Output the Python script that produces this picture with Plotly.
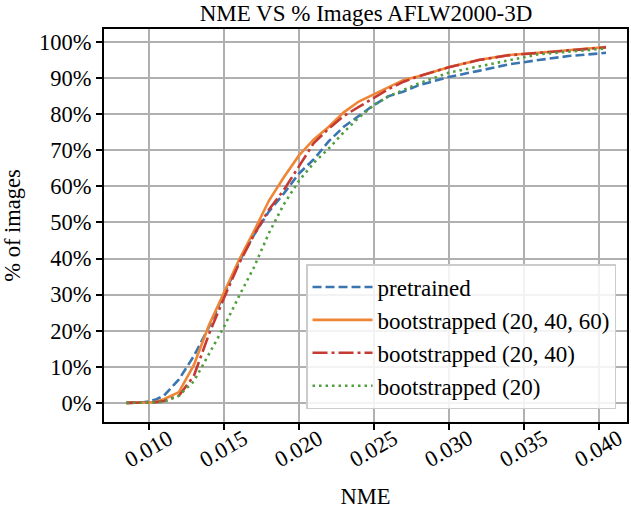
import plotly.graph_objects as go

# ---- data ----
nme = [0.0085, 0.0090, 0.0095, 0.0100, 0.0105, 0.0110, 0.0120, 0.0130, 0.0140, 0.0150,
       0.0160, 0.0170, 0.0180, 0.0190, 0.0200, 0.0210, 0.0220, 0.0230, 0.0240, 0.0250,
       0.0260, 0.0270, 0.0280, 0.0300, 0.0320, 0.0340, 0.0360, 0.0380, 0.0400, 0.0405]

pretrained = [0, 0, 0.1, 0.4, 1.0, 2.0, 6.5, 13.0, 21.0, 30.0,
              39.0, 46.5, 53.0, 58.0, 63.5, 67.5, 72.5, 76.5, 79.5, 82.5,
              85.0, 86.3, 88.0, 90.3, 92.0, 93.8, 95.0, 96.1, 96.8, 97.0]
boot_20_40_60 = [0, 0, 0, 0.1, 0.3, 1.0, 3.0, 10.5, 21.5, 30.5,
                 39.5, 47.5, 56.0, 62.5, 68.5, 73.0, 76.5, 80.5, 83.5, 85.5,
                 87.5, 89.5, 90.5, 93.0, 95.0, 96.4, 97.0, 97.8, 98.4, 98.6]
boot_20_40 = [0, 0, 0, 0.1, 0.2, 0.5, 2.0, 7.5, 19.0, 29.0,
              38.5, 46.5, 53.5, 59.0, 65.5, 72.0, 76.0, 79.5, 82.0, 84.5,
              87.0, 89.0, 90.5, 93.0, 95.0, 96.3, 97.0, 97.8, 98.3, 98.5]
boot_20 = [0, 0, 0, 0, 0.1, 0.3, 2.0, 6.0, 13.5, 21.0,
           29.5, 37.5, 47.0, 55.0, 61.5, 66.5, 70.5, 75.0, 79.0, 82.5,
           85.0, 86.8, 88.5, 91.5, 93.2, 95.0, 96.6, 97.3, 98.0, 98.2]

series_names = ["pretrained", "bootstrapped (20, 40, 60)", "bootstrapped (20, 40)", "bootstrapped (20)"]
series_values = [pretrained, boot_20_40_60, boot_20_40, boot_20]
series_colors = ["#3a75b0", "#ef8636", "#c53a32", "#519e3e"]
series_dash = ["9px,4px", "solid", "15px,4px,3px,4px", "2.5px,4px"]

x_tickvals = [0.010, 0.015, 0.020, 0.025, 0.030, 0.035, 0.040]
x_ticktext = ["0.010", "0.015", "0.020", "0.025", "0.030", "0.035", "0.040"]
y_tickvals = [0, 10, 20, 30, 40, 50, 60, 70, 80, 90, 100]
y_ticktext = [f"{v}%" for v in y_tickvals]

FONT = "Liberation Serif"

fig = go.Figure()
for name, vals, col, dash in zip(series_names, series_values, series_colors, series_dash):
    fig.add_trace(go.Scatter(x=nme, y=vals, mode="lines", name=name,
                             line=dict(color=col, width=2.6, dash=dash)))

# rotated x tick labels (matplotlib-style centred under the tick)
for v, t in zip(x_tickvals, x_ticktext):
    fig.add_annotation(x=v, xref="x", y=0, yref="paper", text=t, showarrow=False,
                       textangle=-30, xanchor="center", yanchor="top", yshift=0,
                       font=dict(family=FONT, size=22.5, color="black"))

fig.update_layout(
    width=631, height=509,
    margin=dict(l=104, r=2, t=29, b=87),
    paper_bgcolor="white", plot_bgcolor="white",
    font=dict(family=FONT, size=22.5, color="black"),
    title=dict(text="NME VS % Images AFLW2000-3D", x=0.58, xanchor="center",
               y=0.975, yanchor="middle", font=dict(family=FONT, size=23)),
    xaxis=dict(range=[0.0070, 0.0419], tickvals=x_tickvals, showticklabels=False,
               ticks="outside", ticklen=6, tickwidth=1.5, tickcolor="black",
               showgrid=True, gridcolor="#b0b0b0", gridwidth=1.5,
               showline=True, linecolor="black", linewidth=1.8, mirror=True,
               zeroline=False,
               title=dict(text="NME", standoff=60, font=dict(family=FONT, size=22.5))),
    yaxis=dict(range=[-5.3, 103.6], tickvals=y_tickvals, ticktext=y_ticktext,
               ticks="outside", ticklen=6, tickwidth=1.5, tickcolor="black",
               tickfont=dict(family=FONT, size=22.5),
               showgrid=True, gridcolor="#b0b0b0", gridwidth=1.5,
               showline=True, linecolor="black", linewidth=1.8, mirror=True,
               zeroline=False,
               title=dict(text="% of images", standoff=12, font=dict(family=FONT, size=22.5))),
    legend=dict(x=0.979, xanchor="right", y=0.033, yanchor="bottom",
                bgcolor="rgba(255,255,255,0.85)", bordercolor="#cccccc", borderwidth=1.5,
                font=dict(family=FONT, size=23), tracegroupgap=0, itemwidth=60),
    showlegend=True,
)

fig.write_html("out.html", config={"displayModeBar": False},
               post_script="document.body.style.margin='0px';")
